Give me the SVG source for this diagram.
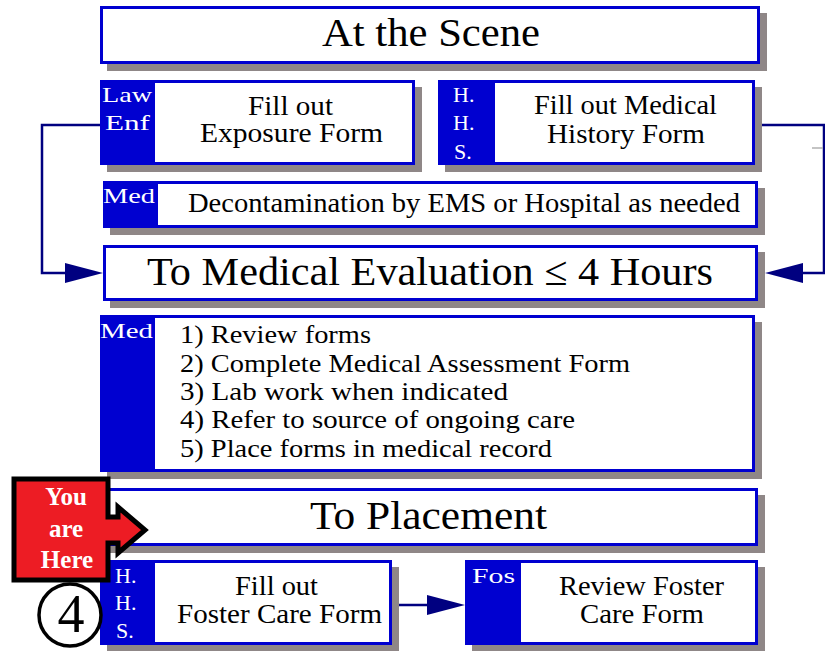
<svg xmlns="http://www.w3.org/2000/svg" width="825" height="651" viewBox="0 0 825 651" font-family="Liberation Serif, serif">
<style>
.sh{fill:#8f8787}
.bx{fill:#fff;stroke:#0000d0;stroke-width:3}
.tab{fill:#0000d0}
.t{fill:#000}
.lb{fill:#fff;font-size:22px}
.cn{fill:none;stroke:#000080;stroke-width:2.5}
</style>
<defs>
<marker id="ah" markerUnits="userSpaceOnUse" markerWidth="40" markerHeight="22" refX="28" refY="10" orient="auto" viewBox="0 0 40 22">
<path d="M0,0 L38,10 L0,20 Z" fill="#000080"/>
</marker>
</defs>
<rect width="825" height="651" fill="#fff"/>
<g id="connectors">
<path class="cn" d="M100,125 H42 V273 H93" marker-end="url(#ah)"/>
<path class="cn" d="M755,125 H824 V273 H775" marker-end="url(#ah)"/>
<line x1="812" y1="148" x2="823" y2="148" stroke="#b0b0b0" stroke-width="1.5"/>
<path class="cn" d="M392,605 H455" marker-end="url(#ah)"/>
</g>
<g id="at-scene">
<rect class="sh" x="107" y="13" width="660" height="58"/>
<rect class="bx" x="101.5" y="7.5" width="657" height="55"/>
<text class="t" font-family="Liberation Serif, serif" x="322" y="46" font-size="41" textLength="218" lengthAdjust="spacingAndGlyphs">At the Scene</text>
</g>
<g id="law-enf">
<rect class="sh" x="107" y="87" width="315" height="85"/>
<rect class="bx" x="101.5" y="81.5" width="312" height="82"/>
<rect class="tab" x="100" y="80" width="55" height="85"/>
<text class="lb" font-family="Liberation Serif, serif" x="102" y="102" textLength="50" lengthAdjust="spacingAndGlyphs">Law</text>
<text class="lb" font-family="Liberation Serif, serif" x="105" y="130" textLength="45" lengthAdjust="spacingAndGlyphs">Enf</text>
<text class="t" font-family="Liberation Serif, serif" x="248" y="115" font-size="27" textLength="85" lengthAdjust="spacingAndGlyphs">Fill out</text>
<text class="t" font-family="Liberation Serif, serif" x="200" y="142" font-size="27" textLength="183" lengthAdjust="spacingAndGlyphs">Exposure Form</text>
</g>
<g id="hhs-history">
<rect class="sh" x="445" y="87" width="317" height="85"/>
<rect class="bx" x="439.5" y="81.5" width="314" height="82"/>
<rect class="tab" x="438" y="80" width="57" height="85"/>
<text class="lb" font-family="Liberation Serif, serif" x="453" y="102">H.</text>
<text class="lb" font-family="Liberation Serif, serif" x="453" y="130">H.</text>
<text class="lb" font-family="Liberation Serif, serif" x="454" y="159">S.</text>
<text class="t" font-family="Liberation Serif, serif" x="534" y="114" font-size="27" textLength="183" lengthAdjust="spacingAndGlyphs">Fill out Medical</text>
<text class="t" font-family="Liberation Serif, serif" x="547" y="143" font-size="27" textLength="158" lengthAdjust="spacingAndGlyphs">History Form</text>
</g>
<g id="decon">
<rect class="sh" x="110" y="188" width="655" height="47"/>
<rect class="bx" x="104.5" y="182.5" width="652" height="44"/>
<rect class="tab" x="103" y="181" width="55" height="47"/>
<text class="lb" font-family="Liberation Serif, serif" x="103" y="203" textLength="52" lengthAdjust="spacingAndGlyphs">Med</text>
<text class="t" font-family="Liberation Serif, serif" x="188" y="212" font-size="27" textLength="552" lengthAdjust="spacingAndGlyphs">Decontamination by EMS or Hospital as needed</text>
</g>
<g id="med-eval">
<rect class="sh" x="110" y="252" width="655" height="56"/>
<rect class="bx" x="104.5" y="246.5" width="652" height="53"/>
<text class="t" font-family="Liberation Serif, serif" x="147" y="285" font-size="41" textLength="566" lengthAdjust="spacingAndGlyphs">To Medical Evaluation ≤ 4 Hours</text>
</g>
<g id="med-list">
<rect class="sh" x="107" y="322" width="655" height="157"/>
<rect class="bx" x="101.5" y="316.5" width="652" height="154"/>
<rect class="tab" x="100" y="315" width="55" height="157"/>
<text class="lb" font-family="Liberation Serif, serif" x="100" y="338" textLength="53" lengthAdjust="spacingAndGlyphs">Med</text>
<text class="t" font-family="Liberation Serif, serif" x="180" y="343" font-size="25" textLength="191" lengthAdjust="spacingAndGlyphs">1) Review forms</text>
<text class="t" font-family="Liberation Serif, serif" x="180" y="372" font-size="25" textLength="450" lengthAdjust="spacingAndGlyphs">2) Complete Medical Assessment Form</text>
<text class="t" font-family="Liberation Serif, serif" x="180" y="400" font-size="25" textLength="328" lengthAdjust="spacingAndGlyphs">3) Lab work when indicated</text>
<text class="t" font-family="Liberation Serif, serif" x="180" y="428" font-size="25" textLength="395" lengthAdjust="spacingAndGlyphs">4) Refer to source of ongoing care</text>
<text class="t" font-family="Liberation Serif, serif" x="180" y="457" font-size="25" textLength="372" lengthAdjust="spacingAndGlyphs">5) Place forms in medical record</text>
</g>
<g id="placement">
<rect class="sh" x="110" y="495" width="655" height="58"/>
<rect class="bx" x="104.5" y="489.5" width="652" height="55"/>
<text class="t" font-family="Liberation Serif, serif" x="310" y="529" font-size="41" textLength="237" lengthAdjust="spacingAndGlyphs">To Placement</text>
</g>
<g id="hhs-foster">
<rect class="sh" x="107" y="567" width="292" height="85"/>
<rect class="bx" x="101.5" y="561.5" width="289" height="82"/>
<rect class="tab" x="100" y="560" width="55" height="85"/>
<text class="lb" font-family="Liberation Serif, serif" x="115" y="583">H.</text>
<text class="lb" font-family="Liberation Serif, serif" x="115" y="610">H.</text>
<text class="lb" font-family="Liberation Serif, serif" x="116" y="638">S.</text>
<text class="t" font-family="Liberation Serif, serif" x="235" y="595" font-size="27" textLength="83" lengthAdjust="spacingAndGlyphs">Fill out</text>
<text class="t" font-family="Liberation Serif, serif" x="177" y="623" font-size="27" textLength="205" lengthAdjust="spacingAndGlyphs">Foster Care Form</text>
</g>
<g id="fos-review">
<rect class="sh" x="472" y="567" width="293" height="85"/>
<rect class="bx" x="466.5" y="561.5" width="290" height="82"/>
<rect class="tab" x="465" y="560" width="56" height="85"/>
<text class="lb" font-family="Liberation Serif, serif" x="472" y="583" textLength="43" lengthAdjust="spacingAndGlyphs">Fos</text>
<text class="t" font-family="Liberation Serif, serif" x="559" y="595" font-size="27" textLength="165" lengthAdjust="spacingAndGlyphs">Review Foster</text>
<text class="t" font-family="Liberation Serif, serif" x="580" y="623" font-size="27" textLength="124" lengthAdjust="spacingAndGlyphs">Care Form</text>
</g>
<g id="you-are-here">
<path d="M14,479 H108 V517 H118 V507 L145,530 L118,553 V543 H108 V580 H14 Z" fill="#ed1c24" stroke="#000" stroke-width="5" stroke-linejoin="miter"/>
<text x="66" y="505" text-anchor="middle" font-family="Liberation Serif, serif" font-weight="bold" font-size="25" fill="#fff">You</text>
<text x="66" y="537" text-anchor="middle" font-family="Liberation Serif, serif" font-weight="bold" font-size="25" fill="#fff">are</text>
<text x="67" y="568" text-anchor="middle" font-family="Liberation Serif, serif" font-weight="bold" font-size="25" fill="#fff">Here</text>
</g>
<g id="step-4">
<circle cx="70" cy="615" r="31" fill="#fff" stroke="#000" stroke-width="3.5"/>
<text x="71" y="632" text-anchor="middle" font-family="Liberation Serif, serif" font-size="54" fill="#000">4</text>
</g>
</svg>
